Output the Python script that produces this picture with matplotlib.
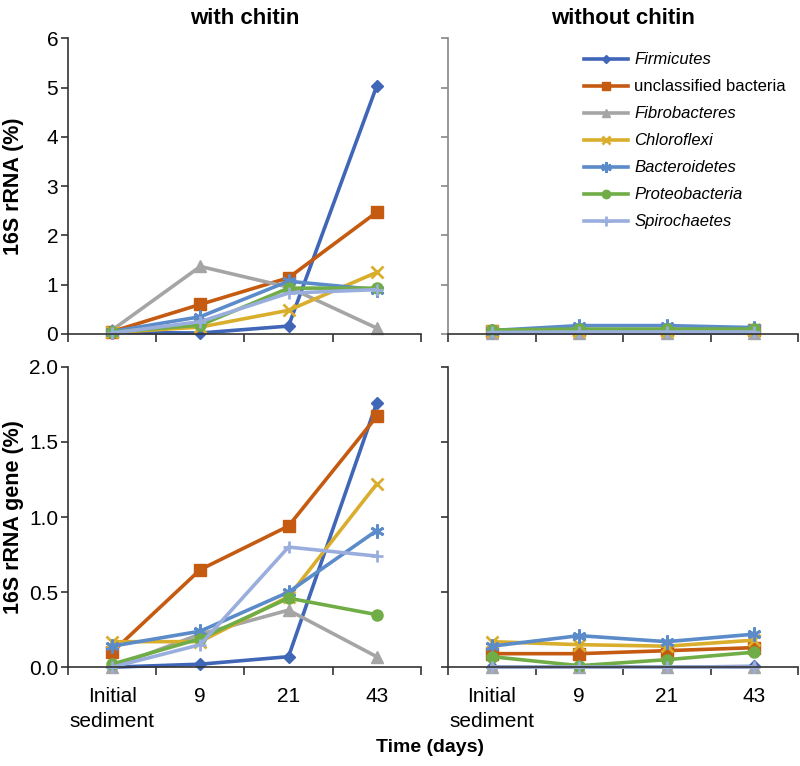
import matplotlib
matplotlib.use('Agg')
import matplotlib.pyplot as plt

plt.rcParams['font.family'] = ['Liberation Sans', 'DejaVu Sans']

# Datos
categorias = ['Initial\nsediment', '9', '21', '43']
grupos = ['Firmicutes', 'unclassified bacteria', 'Fibrobacteres', 'Chloroflexi',
          'Bacteroidetes', 'Proteobacteria', 'Spirochaetes']

# 16S rRNA (%) con quitina
rna_con = {
    'Firmicutes':            [0.03, 0.02, 0.16, 5.03],
    'unclassified bacteria': [0.05, 0.60, 1.14, 2.47],
    'Fibrobacteres':         [0.08, 1.37, 0.95, 0.12],
    'Chloroflexi':           [0.03, 0.14, 0.48, 1.25],
    'Bacteroidetes':         [0.05, 0.35, 1.07, 0.90],
    'Proteobacteria':        [0.04, 0.18, 0.93, 0.93],
    'Spirochaetes':          [0.02, 0.25, 0.83, 0.90],
}
# 16S rRNA (%) sin quitina
rna_sin = {
    'Firmicutes':            [0.01, 0.01, 0.01, 0.01],
    'unclassified bacteria': [0.07, 0.08, 0.08, 0.08],
    'Fibrobacteres':         [0.02, 0.02, 0.02, 0.02],
    'Chloroflexi':           [0.06, 0.07, 0.07, 0.08],
    'Bacteroidetes':         [0.07, 0.17, 0.17, 0.13],
    'Proteobacteria':        [0.08, 0.10, 0.10, 0.10],
    'Spirochaetes':          [0.03, 0.04, 0.04, 0.04],
}
# 16S rRNA gene (%) con quitina
gen_con = {
    'Firmicutes':            [0.00, 0.02, 0.07, 1.76],
    'unclassified bacteria': [0.10, 0.65, 0.94, 1.67],
    'Fibrobacteres':         [0.00, 0.22, 0.38, 0.07],
    'Chloroflexi':           [0.17, 0.17, 0.47, 1.22],
    'Bacteroidetes':         [0.14, 0.24, 0.50, 0.91],
    'Proteobacteria':        [0.02, 0.19, 0.46, 0.35],
    'Spirochaetes':          [0.00, 0.15, 0.80, 0.74],
}
# 16S rRNA gene (%) sin quitina
gen_sin = {
    'Firmicutes':            [0.00, 0.00, 0.00, 0.005],
    'unclassified bacteria': [0.09, 0.09, 0.11, 0.13],
    'Fibrobacteres':         [0.00, 0.00, 0.00, 0.00],
    'Chloroflexi':           [0.17, 0.15, 0.14, 0.18],
    'Bacteroidetes':         [0.14, 0.21, 0.17, 0.22],
    'Proteobacteria':        [0.07, 0.01, 0.05, 0.10],
    'Spirochaetes':          [0.00, 0.00, 0.00, 0.00],
}

colores = ['#4066B8', '#C55A11', '#A5A5A5', '#D9AE2C', '#5B8BC9', '#70AD47', '#9AAEDD']
marcadores = ['D', 's', '^', 'x', (6, 2, 0), 'o', '+']
tam_marc = [6, 8, 8, 8, 10, 8, 9]

fig = plt.figure(figsize=(8, 7.66), dpi=100)
ax_ul = fig.add_axes([0.085, 0.564, 0.441, 0.386])
ax_ur = fig.add_axes([0.56, 0.564, 0.4375, 0.386])
ax_ll = fig.add_axes([0.085, 0.129, 0.441, 0.392])
ax_lr = fig.add_axes([0.56, 0.129, 0.4375, 0.392])

x = list(range(len(categorias)))

def dibujar(ax, datos, ymax, yticks, etiquetas_y, mostrar_x, color_eje='#333333'):
    for g, c, m, ms in zip(grupos, colores, marcadores, tam_marc):
        ax.plot(x, datos[g], color=c, marker=m, markersize=ms, linewidth=2.6,
                markeredgewidth=2 if m in ('x', '+') or isinstance(m, tuple) else 1,
                markeredgecolor=c, label=g, clip_on=False)
    ax.set_xlim(-0.5, 3.5)
    ax.set_ylim(0, ymax)
    for s in ['top', 'right']:
        ax.spines[s].set_visible(False)
    ax.spines['left'].set_color(color_eje)
    ax.spines['bottom'].set_color('#333333')
    ax.spines['left'].set_linewidth(1.2)
    ax.spines['bottom'].set_linewidth(1.2)
    ax.set_yticks(yticks)
    if etiquetas_y is None:
        ax.set_yticklabels([])
    else:
        ax.set_yticklabels(etiquetas_y)
    ax.tick_params(axis='y', direction='out', length=5, width=1.2, color=color_eje,
                   labelsize=15, pad=2)
    ax.set_xticks(x)
    ax.set_xticklabels(categorias if mostrar_x else [], linespacing=1.4)
    ax.tick_params(axis='x', which='major', length=0, labelsize=15, pad=14)
    ax.set_xticks([-0.5, 0.5, 1.5, 2.5, 3.5], minor=True)
    ax.tick_params(axis='x', which='minor', direction='out', length=6, width=1.2,
                   color='#333333')

dibujar(ax_ul, rna_con, 6, [0, 1, 2, 3, 4, 5, 6], ['0', '1', '2', '3', '4', '5', '6'], False)
dibujar(ax_ur, rna_sin, 6, [0, 1, 2, 3, 4, 5, 6], None, False, color_eje='#888888')
dibujar(ax_ll, gen_con, 2.0, [0, 0.5, 1.0, 1.5, 2.0], ['0.0', '0.5', '1.0', '1.5', '2.0'], True)
dibujar(ax_lr, gen_sin, 2.0, [0, 0.5, 1.0, 1.5, 2.0], None, True)

ax_ul.set_title('with chitin', fontsize=16, fontweight='bold', pad=10)
ax_ur.set_title('without chitin', fontsize=16, fontweight='bold', pad=10)
ax_ul.set_ylabel('16S rRNA (%)', fontsize=15.5, fontweight='bold')
ax_ll.set_ylabel('16S rRNA gene (%)', fontsize=15.5, fontweight='bold')
ax_ul.yaxis.set_label_coords(-0.125, 0.5)
ax_ll.yaxis.set_label_coords(-0.125, 0.5)
fig.text(0.538, 0.024, 'Time (days)', ha='center', va='center', fontsize=14, fontweight='bold')

leyenda = ax_ur.legend(loc='upper left', bbox_to_anchor=(0.37, 0.975), frameon=False,
                       fontsize=12, handlelength=2.6, handletextpad=0.4,
                       labelspacing=0.72, borderaxespad=0, markerscale=0.75)
for t in leyenda.get_texts():
    if t.get_text() != 'unclassified bacteria':
        t.set_style('italic')

fig.savefig('out.png', dpi=100)
